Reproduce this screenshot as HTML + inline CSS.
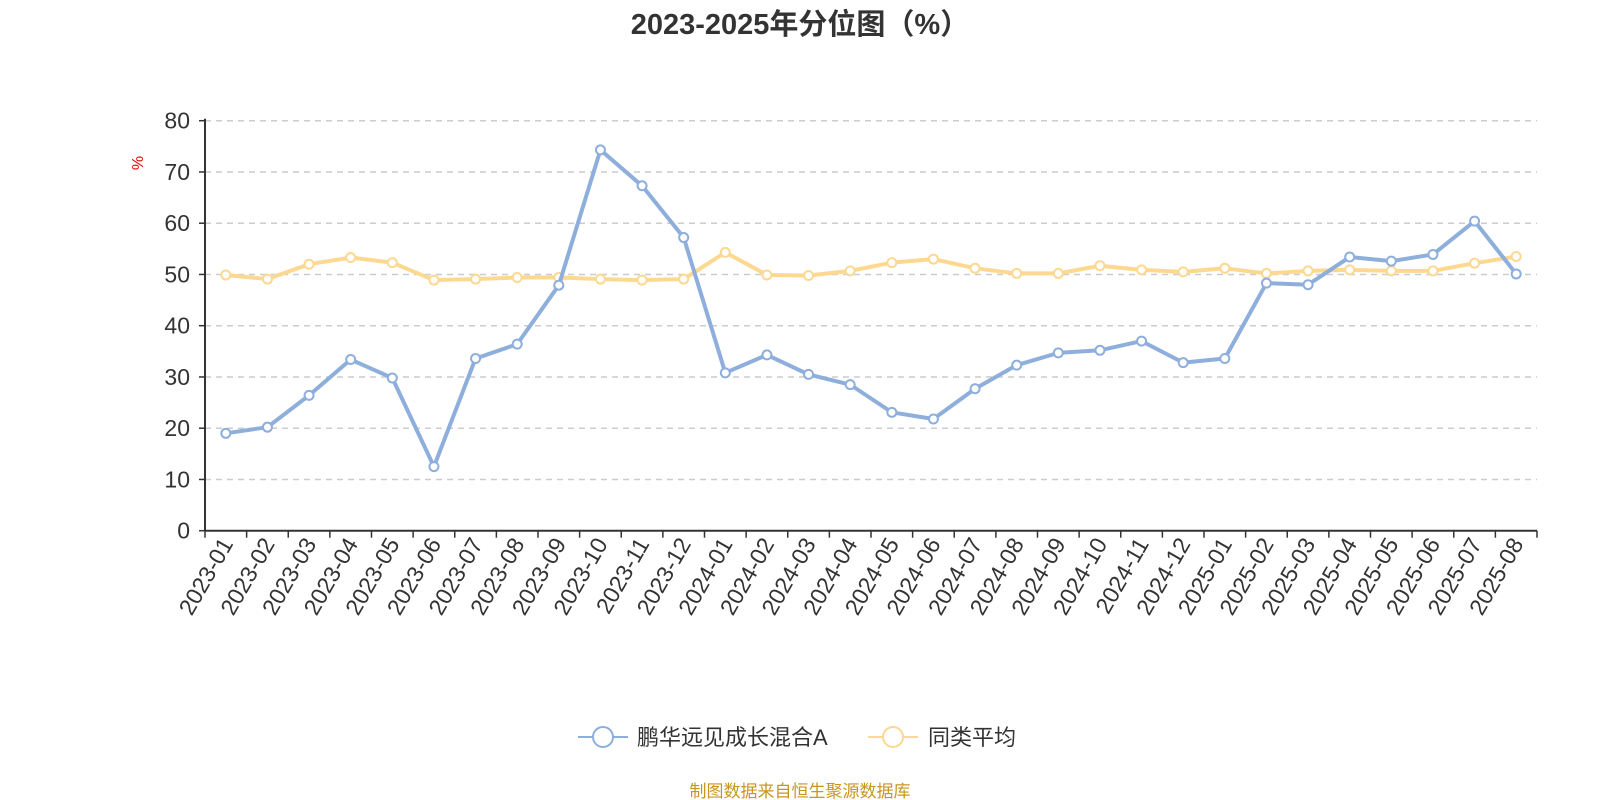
<!DOCTYPE html>
<html><head><meta charset="utf-8"><style>
body{margin:0;background:#fff;}
svg{display:block;font-family:"Liberation Sans","Noto Sans CJK SC",sans-serif;}
</style></head><body>
<svg id="c" width="1600" height="800" viewBox="0 0 1600 800">
<text x="800" y="34" text-anchor="middle" font-size="29" font-weight="bold" fill="#333">2023-2025年分位图（%）</text>
<text x="143" y="163" text-anchor="middle" font-size="16" fill="#e00" transform="rotate(-90 143 163)">%</text>
<g id="grid"></g><g id="axes"></g><g id="series"></g>
<g>
<g>
<line x1="578" y1="737" x2="628" y2="737" stroke="#8eaedc" stroke-width="2"/>
<circle cx="603" cy="737" r="10" fill="#fff" stroke="#8eaedc" stroke-width="2"/>
<text x="637" y="745" font-size="22" fill="#333">鹏华远见成长混合A</text></g>
<g>
<line x1="868" y1="737" x2="918" y2="737" stroke="#fdd891" stroke-width="2"/>
<circle cx="893" cy="737" r="10" fill="#fff" stroke="#fdd891" stroke-width="2"/>
<text x="928" y="745" font-size="22" fill="#333">同类平均</text></g>
</g>
<text x="800" y="797" text-anchor="middle" font-size="17" fill="#c8961e">制图数据来自恒生聚源数据库</text>
</svg>
<script>
const categories=["2023-01","2023-02","2023-03","2023-04","2023-05","2023-06","2023-07","2023-08","2023-09","2023-10","2023-11","2023-12","2024-01","2024-02","2024-03","2024-04","2024-05","2024-06","2024-07","2024-08","2024-09","2024-10","2024-11","2024-12","2025-01","2025-02","2025-03","2025-04","2025-05","2025-06","2025-07","2025-08"];
const fundValues=[19.0,20.2,26.4,33.4,29.8,12.5,33.6,36.4,47.9,74.3,67.3,57.2,30.8,34.3,30.5,28.5,23.1,21.8,27.7,32.3,34.7,35.2,37.0,32.8,33.6,48.3,48.0,53.4,52.6,53.9,60.4,50.1];
const avgValues=[49.9,49.1,52.0,53.3,52.3,48.9,49.1,49.4,49.4,49.1,48.9,49.1,54.3,49.9,49.8,50.7,52.3,53.0,51.2,50.2,50.2,51.7,50.9,50.5,51.2,50.2,50.7,50.9,50.7,50.7,52.2,53.5];
const yTicks=[0,10,20,30,40,50,60,70,80];
const NS="http://www.w3.org/2000/svg";
const L=205,R=1537,T=120.7,B=530.7,YMAX=80;
const bw=(R-L)/categories.length;
function xs(i){return L+bw*(i+0.5);}
function ys(v){return B-(v/YMAX)*(B-T);}
function mk(t,a,p){const e=document.createElementNS(NS,t);for(const k in a)e.setAttribute(k,a[k]);p.appendChild(e);return e;}
const grid=document.getElementById('grid'),axes=document.getElementById('axes'),ser=document.getElementById('series');
yTicks.forEach(v=>{
 const y=ys(v);
 if(v>0){const g=mk('line',{x1:L,x2:R,y1:y,y2:y,stroke:'#ccc','stroke-width':1.5,'stroke-dasharray':'6,5'},grid);
 
 }
 const tk=mk('line',{x1:L-6,x2:L,y1:y,y2:y,stroke:'#333','stroke-width':1.5},axes);
 
 
 const t=mk('text',{x:L-15,y:y+8,'text-anchor':'end','font-size':23,fill:'#333'},axes);
 t.textContent=v;
 
 
});
const ya=mk('line',{x1:L,x2:L,y1:T-2,y2:B,stroke:'#333','stroke-width':2},axes);


const xa=mk('line',{x1:L,x2:R,y1:B,y2:B,stroke:'#333','stroke-width':2},axes);


for(let i=0;i<=categories.length;i++){
 const x=L+bw*i;
 const tk=mk('line',{x1:x,x2:x,y1:B,y2:B+7,stroke:'#333','stroke-width':1.5},axes);
 
 
}
categories.forEach((c,i)=>{
 const x=xs(i)+8,y=B+13;
 const t=mk('text',{x:x,y:y,'text-anchor':'end','font-size':23,fill:'#333',transform:`rotate(-60 ${x} ${y})`},axes);
 t.textContent=c;
 
 
});
function drawSeries(vals,color,name){
 const g=mk('g',{},ser);
 
 
 const pl=mk('polyline',{points:vals.map((v,i)=>xs(i)+','+ys(v)).join(' '),fill:'none',stroke:color,'stroke-width':4,'stroke-linejoin':'round'},g);
 
 
 vals.forEach((v,i)=>{
  const p=mk('circle',{cx:xs(i),cy:ys(v),r:4.5,fill:'#fff',stroke:color,'stroke-width':2},g);
  
  
 });
}
drawSeries(avgValues,'#fdd891','average-series');
drawSeries(fundValues,'#8eaedc','fund-series');
</script>
</body></html>
